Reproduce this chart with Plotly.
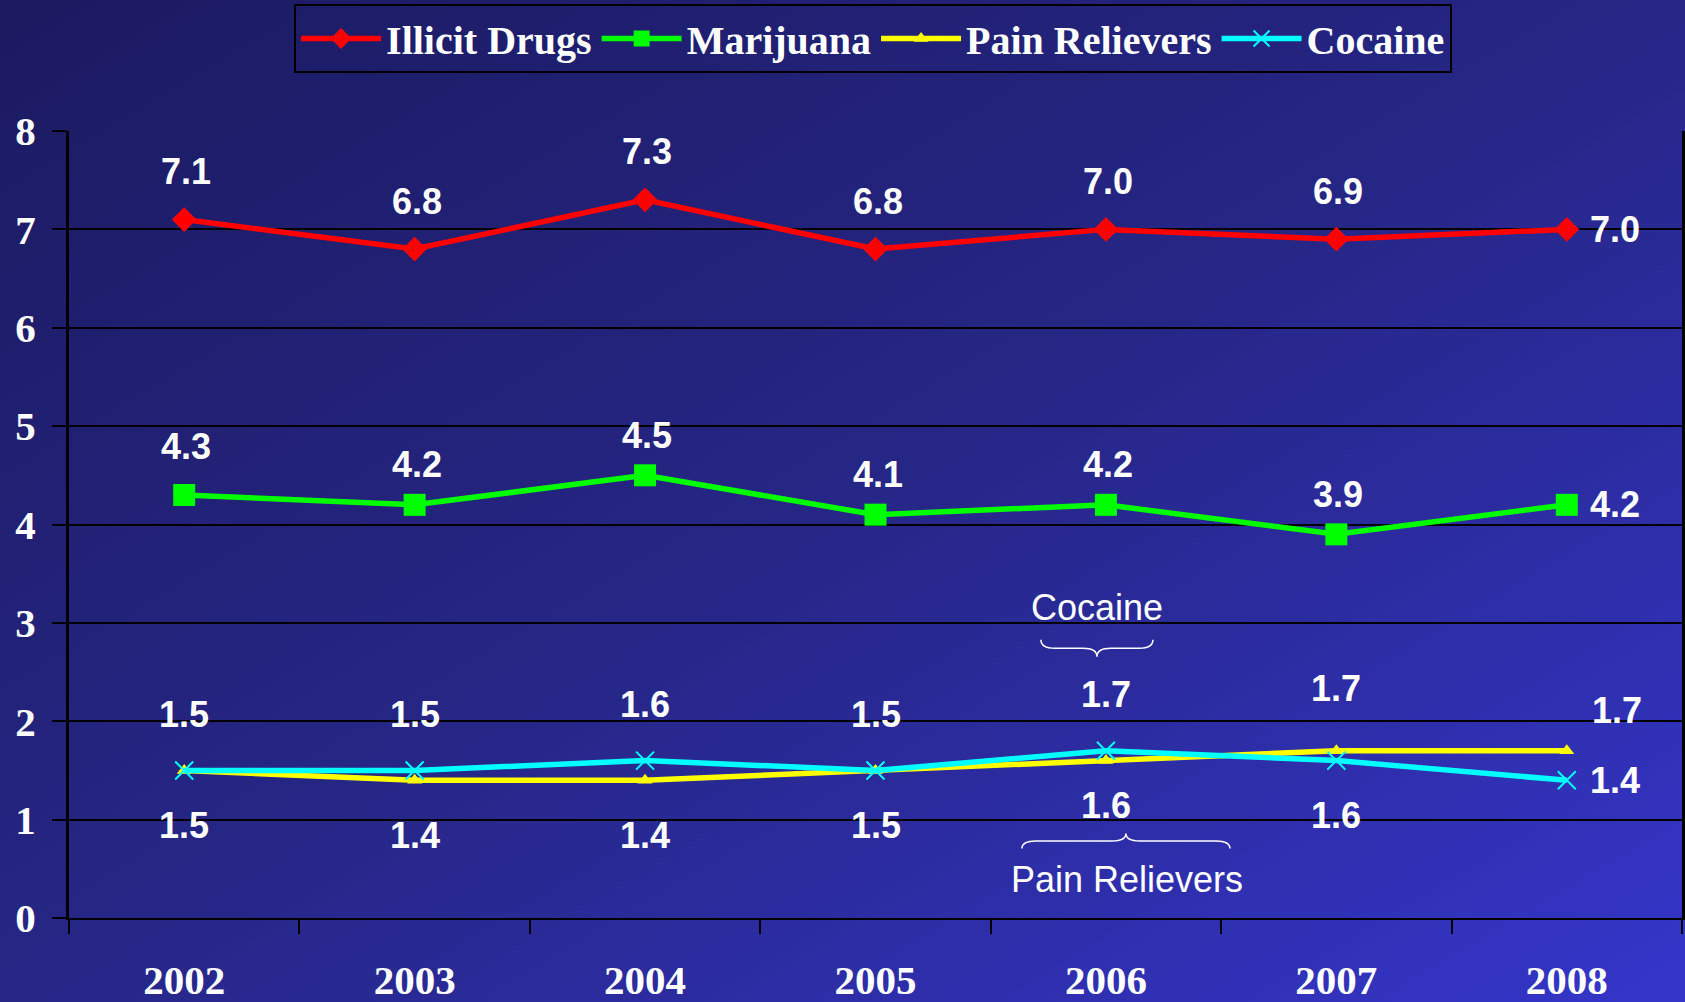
import base64
import plotly.graph_objects as go

# Past-month use (%) among persons aged 12 and older
years = ["2002", "2003", "2004", "2005", "2006", "2007", "2008"]
illicit_drugs = [7.1, 6.8, 7.3, 6.8, 7.0, 6.9, 7.0]
marijuana = [4.3, 4.2, 4.5, 4.1, 4.2, 3.9, 4.2]
pain_relievers = [1.5, 1.4, 1.4, 1.5, 1.6, 1.7, 1.7]
cocaine = [1.5, 1.5, 1.6, 1.5, 1.7, 1.6, 1.4]
y_ticks = [0, 1, 2, 3, 4, 5, 6, 7, 8]

# where each value label sits relative to its point
illicit_place = ["above"] * 6 + ["right"]
marijuana_place = ["above"] + ["above_low"] * 5 + ["right"]
pain_place = ["below"] * 4 + ["below_close", "above_high", "above_right"]
cocaine_place = ["above_c"] * 5 + ["below", "right"]

PLACE_SHIFT = {
    "above": (2, 48),
    "above_low": (2, 40),
    "above_high": (0, 62),
    "above_c": (0, 56),
    "below": (0, -55),
    "below_close": (0, -45),
    "right": (48, 0),
    "above_right": (50, 40),
}

W, H = 1685, 1002
ML, MR, MT, MB = 69, 3, 131, 84
PW, PH = W - ML - MR, H - MT - MB

fig = go.Figure()

series = [
    ("Illicit Drugs", illicit_drugs, "#ff0000", dict(symbol="diamond", size=19), illicit_place),
    ("Marijuana", marijuana, "#00ff00", dict(symbol="square", size=22), marijuana_place),
    ("Pain Relievers", pain_relievers, "#ffff00", dict(symbol="triangle-up", size=13), pain_place),
    ("Cocaine", cocaine, "#00ffff",
     dict(symbol="x-thin", size=18, line=dict(color="#00ffff", width=2)), cocaine_place),
]

label_font = dict(family="Liberation Sans", size=36, color="white", weight="bold")

annotations = []
for name, vals, color, mk, places in series:
    fig.add_trace(go.Scatter(
        x=years, y=vals, name=name, mode="lines+markers",
        line=dict(color=color, width=5.5),
        marker=dict(color=color, **mk),
        cliponaxis=False,
    ))
    for i, (v, p) in enumerate(zip(vals, places)):
        dx, dy = PLACE_SHIFT[p]
        annotations.append(dict(
            xref="x", yref="y", x=i, y=v, text=f"{v:.1f}", showarrow=False,
            xshift=dx, yshift=dy, font=label_font,
        ))


def brace(half_w, depth, q=14):
    # horizontal curly brace in screen pixels, ends at y=0, tip at (0, depth)
    m = depth / 2
    return (f"M {-half_w},0 Q {-half_w},{m} {-half_w + q},{m} L {-q},{m} "
            f"Q 0,{m} 0,{depth} Q 0,{m} {q},{m} L {half_w - q},{m} Q {half_w},{m} {half_w},0")


def move(path, ox, oy, flip_y=True):
    # offset a screen-pixel path; plotly pixel-sized shapes count y upwards
    out = []
    for tok in path.split():
        if "," in tok:
            a, b = tok.split(",")
            yy = float(b) + oy
            out.append(f"{float(a) + ox:g},{-yy if flip_y else yy:g}")
        else:
            out.append(tok)
    return " ".join(out)


note_font = dict(family="Liberation Sans", size=36, color="white")
i06 = years.index("2006")

# Cocaine callout above the 2006 point
fig.add_shape(type="path", xref="x", yref="y", xsizemode="pixel", ysizemode="pixel",
              xanchor=i06, yanchor=cocaine[i06], path=move(brace(56, 17), -9, -111),
              line=dict(color="white", width=1.5))
annotations.append(dict(xref="x", yref="y", x=i06, y=cocaine[i06], text="Cocaine",
                        showarrow=False, xshift=-9, yshift=143, font=note_font))

# Pain Relievers callout below the 2006 point
fig.add_shape(type="path", xref="x", yref="y", xsizemode="pixel", ysizemode="pixel",
              xanchor=i06, yanchor=pain_relievers[i06], path=move(brace(104, -15), 20, 88),
              line=dict(color="white", width=1.5))
annotations.append(dict(xref="x", yref="y", x=i06, y=pain_relievers[i06], text="Pain Relievers",
                        showarrow=False, xshift=21, yshift=-119, font=note_font))

# Background gradient covering the full page
svg = f"""<svg xmlns='http://www.w3.org/2000/svg' width='{W}' height='{H}'>
<defs><linearGradient id='g' x1='0' y1='0' x2='1' y2='1'>
<stop offset='0' stop-color='#1b1a60'/>
<stop offset='0.5' stop-color='#262686'/>
<stop offset='1' stop-color='#3535ca'/>
</linearGradient></defs>
<rect width='{W}' height='{H}' fill='url(#g)'/></svg>"""
bg_src = "data:image/svg+xml;base64," + base64.b64encode(svg.encode()).decode()

tick_font = dict(family="Liberation Serif", size=41, color="white", weight="bold")

fig.update_layout(
    width=W, height=H,
    margin=dict(l=ML, r=MR, t=MT, b=MB, pad=0, autoexpand=False),
    paper_bgcolor="#24247c",
    plot_bgcolor="rgba(0,0,0,0)",
    showlegend=True,
    annotations=annotations,
    images=[dict(
        source=bg_src, xref="paper", yref="paper",
        x=-ML / PW, y=1 + MT / PH, sizex=W / PW, sizey=H / PH,
        xanchor="left", yanchor="top", sizing="stretch", layer="below",
    )],
    legend=dict(
        orientation="h", x=0.4985, xanchor="center", y=1 + (MT - 4) / PH, yanchor="top",
        font=dict(family="Liberation Serif", size=40, color="white", weight="bold"),
        bgcolor="rgba(0,0,0,0)", bordercolor="black", borderwidth=2,
        itemwidth=80, tracegroupgap=0,
    ),
    xaxis=dict(
        type="category", tickson="boundaries", automargin=False,
        showgrid=False, zeroline=False,
        showline=True, linecolor="black", linewidth=2,
        ticks="outside", ticklen=14, tickwidth=2, tickcolor="black",
        tickfont=tick_font, ticklabelstandoff=25,
        range=[-0.5, 6.5],
    ),
    yaxis=dict(
        range=[0, 8], tickvals=y_ticks, automargin=False,
        showgrid=True, gridcolor="black", gridwidth=2,
        zeroline=False,
        showline=True, linecolor="black", linewidth=3, mirror=True,
        ticks="outside", ticklen=14, tickwidth=2, tickcolor="black",
        tickfont=tick_font, ticklabelstandoff=8,
    ),
)

fig.write_html("out.html")
